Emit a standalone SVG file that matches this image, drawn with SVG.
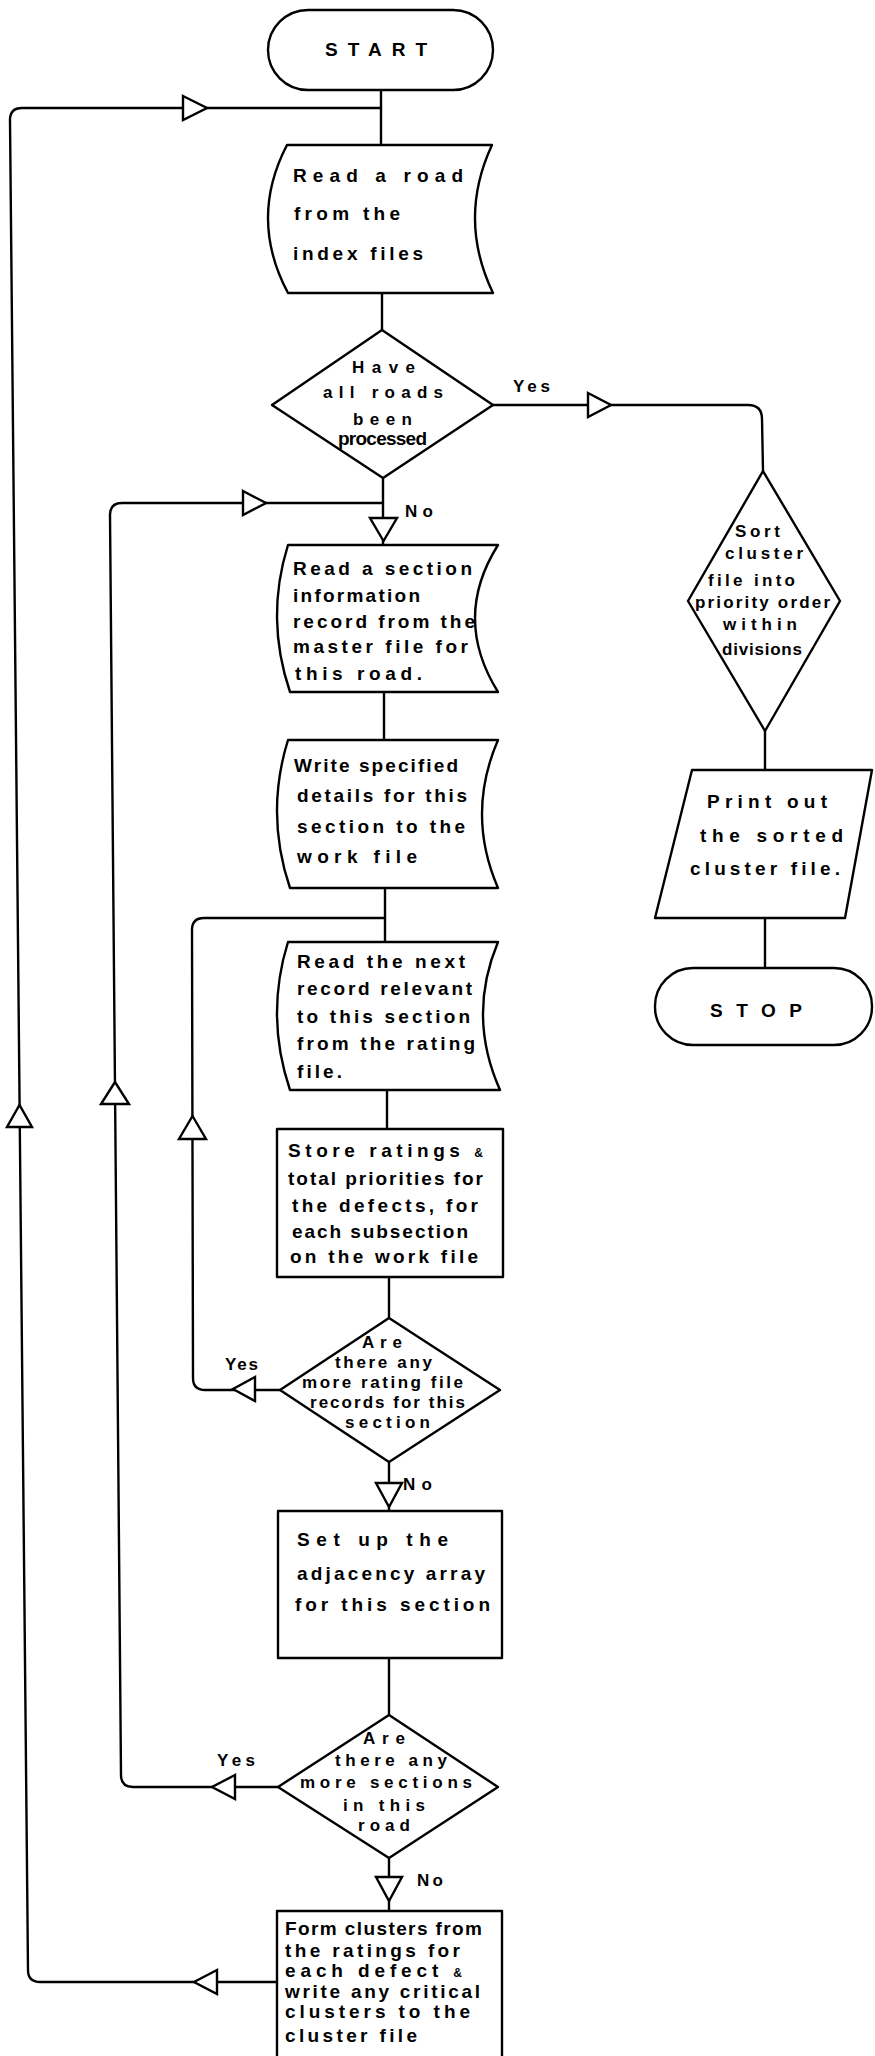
<svg xmlns="http://www.w3.org/2000/svg" width="875" height="2056" viewBox="0 0 875 2056">
<defs>
<style>
.s{fill:#fff;stroke:#000;stroke-width:2.4;stroke-linejoin:round}
.c{fill:none;stroke:#000;stroke-width:2.4;stroke-linecap:round;stroke-linejoin:round}
.a{fill:#fff;stroke:#000;stroke-width:2.4;stroke-linejoin:miter}
text{font-family:"Liberation Sans",Arial,sans-serif;font-size:19px;font-weight:bold;fill:#000}
.d{font-size:17px}
.sm{font-size:12px}
</style>
</defs>
<rect width="875" height="2056" fill="#fff"/>
<g id="connectors">
<path class="c" d="M381,90 V145"/>
<path class="c" d="M382,293 V330"/>
<path class="c" d="M383,478 V545"/>
<path class="c" d="M384,692 V740"/>
<path class="c" d="M385,888 V942"/>
<path class="c" d="M387,1090 V1129"/>
<path class="c" d="M389,1277 V1318"/>
<path class="c" d="M389,1462 V1511"/>
<path class="c" d="M389,1658 V1715"/>
<path class="c" d="M389,1858 V1911"/>
<path class="c" d="M493,405 H748 Q762,405 762,419 L763,471"/>
<path class="c" d="M765,731 V770"/>
<path class="c" d="M765,918 V968"/>
<path class="c" d="M280,1390 H205 Q193,1390 193,1378 L192,930 Q192,918 204,918 H385"/>
<path class="c" d="M278,1787 H133 Q121,1787 121,1775 L110,515 Q110,503 122,503 H383"/>
<path class="c" d="M277,1982 H40 Q28,1982 28,1970 L10,120 Q10,108 22,108 H381"/>
<polygon class="a" points="183,96 207,108 183,120"/>
<polygon class="a" points="243,491 266,503 243,515"/>
<polygon class="a" points="588,393 611,405 588,417"/>
<polygon class="a" points="370,518 397,518 383.5,541"/>
<polygon class="a" points="255,1377 233,1389 255,1401"/>
<polygon class="a" points="179,1139 206,1139 192.5,1116"/>
<polygon class="a" points="101,1104 129,1104 115,1082"/>
<polygon class="a" points="7,1127 32,1127 19.5,1105"/>
<polygon class="a" points="376,1483 402,1483 389,1507"/>
<polygon class="a" points="235,1775 212,1787 235,1799"/>
<polygon class="a" points="376,1877 402,1877 389,1901"/>
<polygon class="a" points="217,1970 194,1982 217,1994"/>
<text class="d" x="513" y="392" textLength="37">Yes</text>
<text class="d" x="405" y="517" textLength="28">No</text>
<text class="d" x="225" y="1370" textLength="33">Yes</text>
<text class="d" x="403" y="1490" textLength="29">No</text>
<text class="d" x="217" y="1766" textLength="38">Yes</text>
<text class="d" x="417" y="1886" textLength="26">No</text>
</g>
<g id="start">
<rect class="s" x="268" y="10" width="225" height="80" rx="40"/>
<text x="325" y="56" textLength="102">START</text>
</g>
<g id="read-road">
<path class="s" d="M287,145 H492 Q457.5,219 493,293 H288 Q248.5,219 287,145 Z"/>
<text x="293" y="182" textLength="170">Read  a road</text>
<text x="294" y="220" textLength="106">from  the</text>
<text x="293" y="260" textLength="130">index  files</text>
</g>
<g id="all-roads">
<polygon class="s" points="382,330 493,405 383,478 272,405"/>
<text class="d" x="352" y="373" textLength="63">Have</text>
<text class="d" x="323" y="398" textLength="120">all  roads</text>
<text class="d" x="353" y="425" textLength="59">been</text>
<text x="338" y="445" font-size="15" textLength="89">processed</text>
</g>
<g id="read-section">
<path class="s" d="M288,545 H498 Q452,618 498,692 H290 Q265,618 288,545 Z"/>
<text x="293" y="575" textLength="179">Read  a  section</text>
<text x="293" y="602" textLength="127">information</text>
<text x="293" y="628" textLength="182">record  from the</text>
<text x="293" y="653" textLength="175">master  file  for</text>
<text x="295" y="680" textLength="127">this   road.</text>
</g>
<g id="write-details">
<path class="s" d="M288,740 H498 Q466,814 498,888 H290 Q265,814 288,740 Z"/>
<text x="294" y="772" textLength="164">Write  specified</text>
<text x="297" y="802" textLength="170">details  for  this</text>
<text x="297" y="833" textLength="168">section  to  the</text>
<text x="297" y="863" textLength="120">work  file</text>
</g>
<g id="read-next">
<path class="s" d="M288,942 H498 Q467,1016 500,1090 H290 Q265,1016 288,942 Z"/>
<text x="297" y="968" textLength="168">Read  the  next</text>
<text x="297" y="995" textLength="175">record  relevant</text>
<text x="297" y="1023" textLength="173">to  this  section</text>
<text x="297" y="1050" textLength="178">from  the rating</text>
<text x="297" y="1078" textLength="45">file.</text>
</g>
<g id="store-ratings">
<rect class="s" x="277" y="1129" width="226" height="148"/>
<text x="288" y="1157" textLength="195">Store  ratings   <tspan class="sm">&amp;</tspan></text>
<text x="288" y="1185" textLength="195">total priorities for</text>
<text x="292" y="1212" textLength="186">the  defects,  for</text>
<text x="292" y="1238" textLength="176">each  subsection</text>
<text x="290" y="1263" textLength="188">on  the  work  file</text>
</g>
<g id="more-ratings">
<polygon class="s" points="389,1318 500,1390 389,1462 280,1390"/>
<text class="d" x="362" y="1348" textLength="40">Are</text>
<text class="d" x="335" y="1368" textLength="97">there any</text>
<text class="d" x="302" y="1388" textLength="161">more rating  file</text>
<text class="d" x="310" y="1408" textLength="155">records for this</text>
<text class="d" x="345" y="1428" textLength="85">section</text>
</g>
<g id="set-up-adjacency">
<rect class="s" x="278" y="1511" width="224" height="147"/>
<text x="297" y="1546" textLength="151">Set   up   the</text>
<text x="297" y="1580" textLength="188">adjacency array</text>
<text x="295" y="1611" textLength="195">for  this  section</text>
</g>
<g id="more-sections">
<polygon class="s" points="389,1715 498,1787 389,1858 278,1787"/>
<text class="d" x="363" y="1744" textLength="42">Are</text>
<text class="d" x="335" y="1766" textLength="112">there  any</text>
<text class="d" x="300" y="1788" textLength="172">more  sections</text>
<text class="d" x="343" y="1811" textLength="82">in  this</text>
<text class="d" x="358" y="1831" textLength="52">road</text>
</g>
<g id="form-clusters">
<rect class="s" x="277" y="1911" width="225" height="160"/>
<text x="285" y="1935" textLength="197">Form clusters  from</text>
<text x="285" y="1957" textLength="175">the  ratings  for</text>
<text x="285" y="1977" textLength="177">each  defect   <tspan class="sm">&amp;</tspan></text>
<text x="285" y="1998" textLength="195">write any critical</text>
<text x="285" y="2018" textLength="185">clusters   to  the</text>
<text x="285" y="2042" textLength="132">cluster  file</text>
</g>
<g id="sort-cluster">
<polygon class="s" points="763,471 840,601 765,731 688,601"/>
<text class="d" x="735" y="537" textLength="45">Sort</text>
<text class="d" x="725" y="559" textLength="78">cluster</text>
<text class="d" x="708" y="586" textLength="87">file  into</text>
<text class="d" x="695" y="608" textLength="135">priority order</text>
<text class="d" x="723" y="630" textLength="74">within</text>
<text class="d" x="722" y="655" textLength="80">divisions</text>
</g>
<g id="print-out">
<polygon class="s" points="692,770 872,770 845,918 655,918"/>
<text x="707" y="808" textLength="120">Print  out</text>
<text x="700" y="842" textLength="143">the  sorted</text>
<text x="690" y="875" textLength="150">cluster  file.</text>
</g>
<g id="stop">
<rect class="s" x="655" y="968" width="217" height="77" rx="38"/>
<text x="710" y="1017" textLength="92">STOP</text>
</g>
</svg>
